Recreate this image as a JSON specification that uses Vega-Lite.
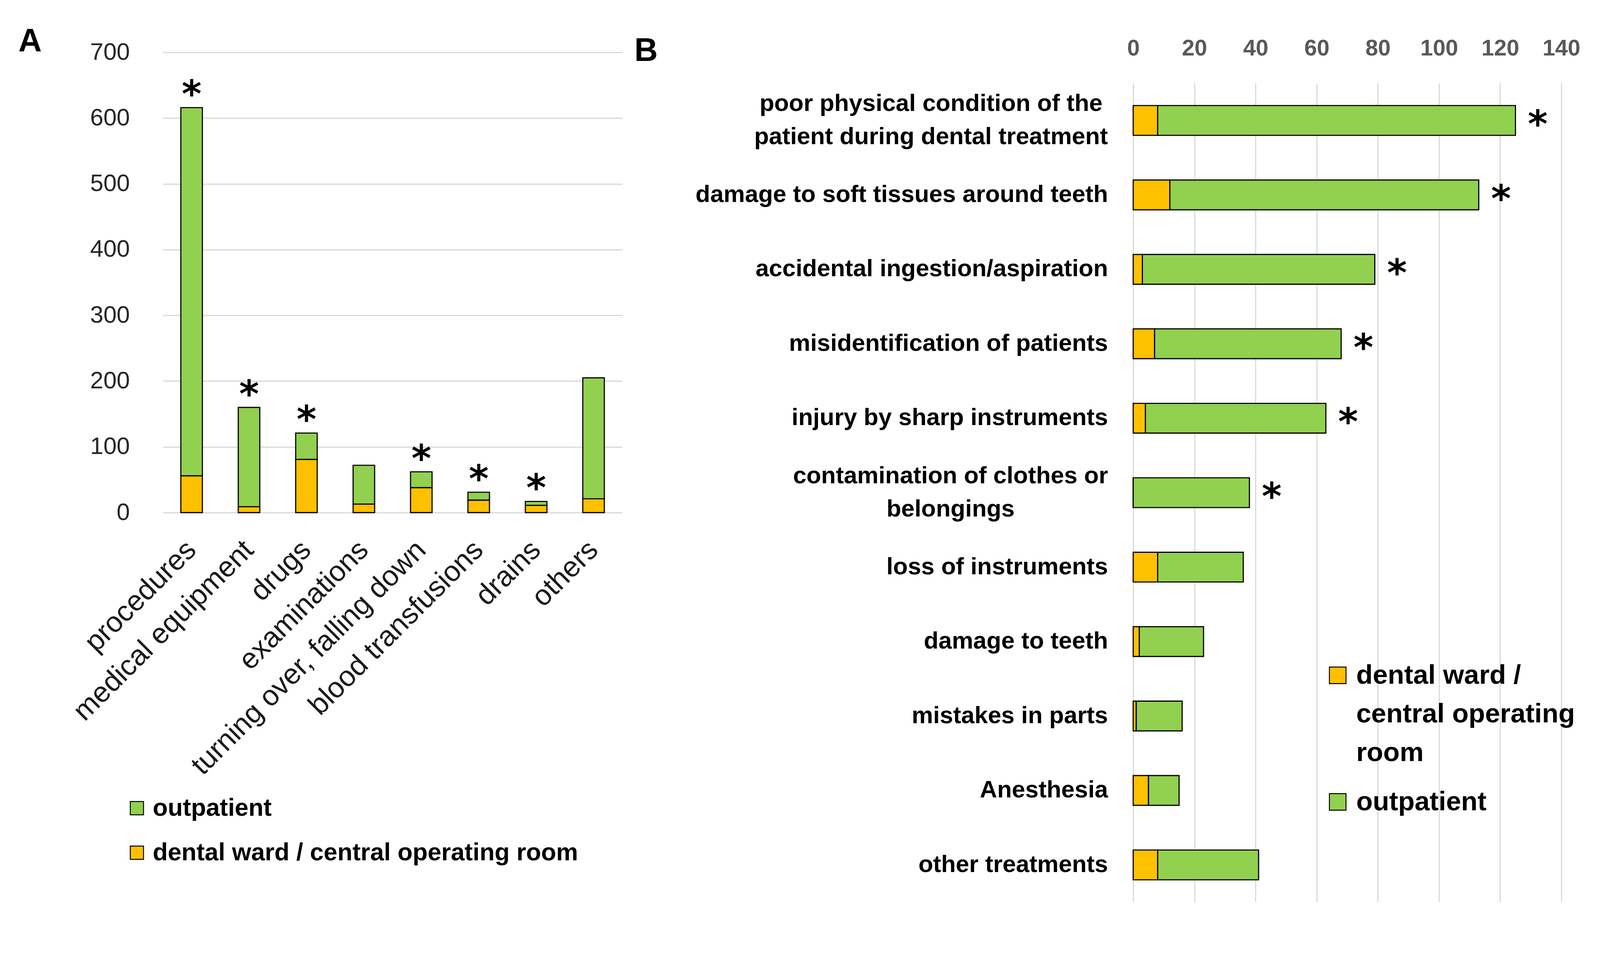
{
  "$schema": "https://vega.github.io/schema/vega-lite/v6.json",
  "background": "white",
  "padding": {"left": 47, "top": 66, "right": 0, "bottom": 0},
  "spacing": 31,
  "config": {
    "view": {"stroke": null},
    "font": "Liberation Sans",
    "style": {"guide-label": {"lineHeight": 99}}
  },
  "datasets": {
    "a": [
      {"category": "procedures", "group": "dental ward / central operating room", "value": 56, "sig": 1},
      {"category": "procedures", "group": "outpatient", "value": 560, "sig": 1},
      {"category": "medical equipment", "group": "dental ward / central operating room", "value": 9, "sig": 1},
      {"category": "medical equipment", "group": "outpatient", "value": 151, "sig": 1},
      {"category": "drugs", "group": "dental ward / central operating room", "value": 81, "sig": 1},
      {"category": "drugs", "group": "outpatient", "value": 40, "sig": 1},
      {"category": "examinations", "group": "dental ward / central operating room", "value": 13, "sig": 0},
      {"category": "examinations", "group": "outpatient", "value": 59, "sig": 0},
      {"category": "turning over,  falling down", "group": "dental ward / central operating room", "value": 38, "sig": 1},
      {"category": "turning over,  falling down", "group": "outpatient", "value": 24, "sig": 1},
      {"category": "blood transfusions", "group": "dental ward / central operating room", "value": 19, "sig": 1},
      {"category": "blood transfusions", "group": "outpatient", "value": 12, "sig": 1},
      {"category": "drains", "group": "dental ward / central operating room", "value": 11, "sig": 1},
      {"category": "drains", "group": "outpatient", "value": 6, "sig": 1},
      {"category": "others", "group": "dental ward / central operating room", "value": 21, "sig": 0},
      {"category": "others", "group": "outpatient", "value": 184, "sig": 0}
    ],
    "b": [
      {"category": "poor physical condition of the patient during dental treatment", "group": "dental ward / central operating room", "value": 8, "sig": 1},
      {"category": "poor physical condition of the patient during dental treatment", "group": "outpatient", "value": 117, "sig": 1},
      {"category": "damage to soft tissues around teeth", "group": "dental ward / central operating room", "value": 12, "sig": 1},
      {"category": "damage to soft tissues around teeth", "group": "outpatient", "value": 101, "sig": 1},
      {"category": "accidental ingestion/aspiration", "group": "dental ward / central operating room", "value": 3, "sig": 1},
      {"category": "accidental ingestion/aspiration", "group": "outpatient", "value": 76, "sig": 1},
      {"category": "misidentification of patients", "group": "dental ward / central operating room", "value": 7, "sig": 1},
      {"category": "misidentification of patients", "group": "outpatient", "value": 61, "sig": 1},
      {"category": "injury by sharp instruments", "group": "dental ward / central operating room", "value": 4, "sig": 1},
      {"category": "injury by sharp instruments", "group": "outpatient", "value": 59, "sig": 1},
      {"category": "contamination of clothes or belongings", "group": "dental ward / central operating room", "value": 0, "sig": 1},
      {"category": "contamination of clothes or belongings", "group": "outpatient", "value": 38, "sig": 1},
      {"category": "loss of instruments", "group": "dental ward / central operating room", "value": 8, "sig": 0},
      {"category": "loss of instruments", "group": "outpatient", "value": 28, "sig": 0},
      {"category": "damage to teeth", "group": "dental ward / central operating room", "value": 2, "sig": 0},
      {"category": "damage to teeth", "group": "outpatient", "value": 21, "sig": 0},
      {"category": "mistakes in parts", "group": "dental ward / central operating room", "value": 1, "sig": 0},
      {"category": "mistakes in parts", "group": "outpatient", "value": 15, "sig": 0},
      {"category": "Anesthesia", "group": "dental ward / central operating room", "value": 5, "sig": 0},
      {"category": "Anesthesia", "group": "outpatient", "value": 10, "sig": 0},
      {"category": "other treatments", "group": "dental ward / central operating room", "value": 8, "sig": 0},
      {"category": "other treatments", "group": "outpatient", "value": 33, "sig": 0}
    ]
  },
  "resolve": {"scale": {"color": "independent"}, "legend": {"color": "independent"}},
  "hconcat": [
    {
      "width": 1176,
      "height": 1099,
      "data": {"name": "a"},
      "title": {"text": "A", "anchor": "start", "frame": "group", "font": "Liberation Sans", "fontSize": 83, "fontWeight": "bold", "color": "black", "dx": -370, "dy": 46, "offset": 0},
      "encoding": {
        "x": {
          "field": "category", "type": "nominal",
          "scale": {"domain": ["procedures", "medical equipment", "drugs", "examinations", "turning over,  falling down", "blood transfusions", "drains", "others"], "paddingInner": 0.625, "paddingOuter": 0.3125},
          "axis": {"title": null, "labelAngle": -45, "labelAlign": "right", "labelBaseline": "middle", "labelFontSize": 73.5, "labelColor": "#1a1a1a", "labelPadding": 84, "ticks": false, "domain": false, "labelLimit": 0}
        }
      },
      "layer": [
        {
          "mark": {"type": "bar", "stroke": "black", "strokeWidth": 2.9},
          "encoding": {
            "y": {
              "field": "value", "type": "quantitative", "stack": "zero",
              "scale": {"domain": [0, 700], "range": [1099, -79]},
              "axis": {"title": null, "values": [0, 100, 200, 300, 400, 500, 600, 700], "labelFontSize": 61, "labelColor": "#262626", "labelPadding": 85, "labelFlush": false, "ticks": false, "domain": false, "grid": true, "gridColor": "#D9D9D9", "gridWidth": 2.9}
            },
            "color": {
              "field": "group", "type": "nominal",
              "scale": {"domain": ["outpatient", "dental ward / central operating room"], "range": ["#92D050", "#FFC000"]},
              "legend": {"title": null, "orient": "none", "legendX": -98, "legendY": 1824, "direction": "vertical", "symbolType": "square", "symbolSize": 1147, "symbolStrokeColor": "black", "symbolStrokeWidth": 2.4, "symbolOpacity": 1, "labelFontSize": 63, "labelFontWeight": "bold", "labelColor": "black", "labelLimit": 0, "rowPadding": 50, "labelOffset": 9, "padding": 0}
            },
            "order": {"field": "group", "type": "nominal", "sort": "ascending"}
          }
        },
        {
          "transform": [
            {"aggregate": [{"op": "sum", "field": "value", "as": "total"}], "groupby": ["category", "sig"]},
            {"filter": "datum.sig == 1"}
          ],
          "mark": {"type": "text", "text": "*", "font": "DejaVu Sans", "fontSize": 97, "fontWeight": "bold", "color": "black", "baseline": "middle", "align": "center", "dy": -30},
          "encoding": {
            "y": {"field": "total", "type": "quantitative"}
          }
        }
      ]
    },
    {
      "width": 1096,
      "height": 2096,
      "data": {"name": "b"},
      "title": {"text": "B", "anchor": "start", "frame": "group", "font": "Liberation Sans", "fontSize": 83, "fontWeight": "bold", "color": "black", "dx": -1277, "dy": 78, "offset": 0},
      "encoding": {
        "y": {
          "field": "category", "type": "nominal",
          "scale": {"domain": ["poor physical condition of the patient during dental treatment", "damage to soft tissues around teeth", "accidental ingestion/aspiration", "misidentification of patients", "injury by sharp instruments", "contamination of clothes or belongings", "loss of instruments", "damage to teeth", "mistakes in parts", "Anesthesia", "other treatments"], "paddingInner": 0.6, "paddingOuter": 0.3},
          "axis": {
            "title": null, "labelFontSize": 61.5, "labelFontWeight": "bold", "labelColor": "black", "ticks": false, "domain": false, "labelLimit": 0, "labelLineHeight": 85,
            "labelAlign": {"condition": {"test": "datum.value == 'poor physical condition of the patient during dental treatment' || datum.value == 'contamination of clothes or belongings'", "value": "center"}, "value": "right"},
            "labelPadding": {"condition": [{"test": "datum.value == 'poor physical condition of the patient during dental treatment'", "value": 518}, {"test": "datum.value == 'contamination of clothes or belongings'", "value": 468}], "value": 65},
            "labelOffset": {"condition": {"test": "datum.value == 'poor physical condition of the patient during dental treatment' || datum.value == 'contamination of clothes or belongings'", "value": -42}, "value": 0},
            "labelExpr": "datum.label == 'poor physical condition of the patient during dental treatment' ? ['poor physical condition of the', 'patient during dental treatment'] : datum.label == 'contamination of clothes or belongings' ? ['contamination of clothes or', 'belongings'] : datum.label"
          }
        }
      },
      "layer": [
        {
          "mark": {"type": "bar", "stroke": "black", "strokeWidth": 2.9},
          "encoding": {
            "x": {
              "field": "value", "type": "quantitative", "stack": "zero",
              "scale": {"domain": [0, 140]},
              "axis": {"title": null, "orient": "top", "values": [0, 20, 40, 60, 80, 100, 120, 140], "labelFontSize": 58, "labelFontWeight": "bold", "labelColor": "#595959", "labelPadding": 60, "labelFlush": false, "ticks": false, "domain": false, "grid": true, "gridColor": "#D9D9D9", "gridWidth": 2.9}
            },
            "color": {
              "field": "group", "type": "nominal",
              "scale": {"domain": ["dental ward / central operating room", "outpatient"], "range": ["#FFC000", "#92D050"]},
              "legend": {"title": null, "orient": "none", "legendX": 489, "legendY": 1481, "direction": "vertical", "symbolType": "square", "symbolSize": 1812, "symbolStrokeColor": "black", "symbolStrokeWidth": 2.4, "symbolOpacity": 1, "labelFontSize": 69, "labelFontWeight": "bold", "labelColor": "black", "labelLimit": 0, "rowPadding": 56, "labelOffset": 13, "padding": 0,
                "labelExpr": "datum.label == 'dental ward / central operating room' ? ['dental ward /', 'central operating', 'room'] : datum.label"}
            },
            "order": {"field": "group", "type": "nominal", "sort": "ascending"}
          }
        },
        {
          "transform": [
            {"aggregate": [{"op": "sum", "field": "value", "as": "total"}], "groupby": ["category", "sig"]},
            {"filter": "datum.sig == 1"}
          ],
          "mark": {"type": "text", "text": "*", "font": "DejaVu Sans", "fontSize": 97, "fontWeight": "bold", "color": "black", "baseline": "middle", "align": "center", "dx": 57, "dy": 14},
          "encoding": {
            "x": {"field": "total", "type": "quantitative"}
          }
        }
      ]
    }
  ]
}
